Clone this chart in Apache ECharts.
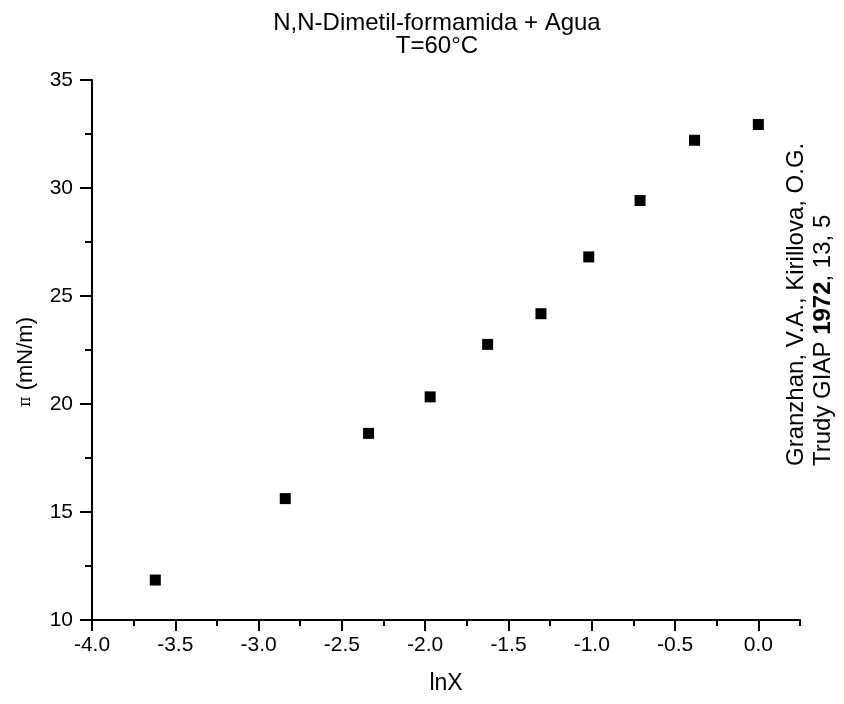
<!DOCTYPE html>
<html>
<head>
<meta charset="utf-8">
<script src="https://cdn.jsdelivr.net/npm/echarts@6/dist/echarts.min.js"></script>
<style>
    html, body { margin: 0; padding: 0; background: #fff; }
    #chart { width: 844px; height: 704px; }
</style>
</head>
<body>
<div id="chart"></div>
<script>
// data
var lnX = [-3.62, -2.84, -2.34, -1.97, -1.625, -1.305, -1.018, -0.71, -0.383, 0.0];
var piVals = [11.85, 15.62, 18.64, 20.33, 22.76, 24.18, 26.81, 29.42, 32.21, 32.94];
var xTicks = [-4.0, -3.5, -3.0, -2.5, -2.0, -1.5, -1.0, -0.5, 0.0];
var yTicks = [10, 15, 20, 25, 30, 35];

var font = 'Liberation Sans, Arial, sans-serif';

var points = [];
for (var i = 0; i < lnX.length; i++) {
    points.push([lnX[i], piVals[i]]);
}

var chart = echarts.init(document.getElementById('chart'));

var option = {
    backgroundColor: '#fff',
    animation: false,
    title: {
        text: 'N,N-Dimetil-formamida + Agua\nT=60°C',
        left: 432,
        textAlign: 'center',
        top: 7,
        textStyle: {
            fontFamily: font,
            fontSize: 24,
            fontWeight: 'normal',
            lineHeight: 23,
            color: '#000'
        }
    },
    grid: {
        left: 92,
        right: 44,
        top: 80,
        bottom: 84
    },
    xAxis: [
        {
            type: 'value',
            min: -4,
            max: 0.25,
            interval: 0.25,
            position: 'bottom',
            name: 'lnX',
            nameLocation: 'middle',
            nameGap: 52,
            nameTextStyle: {fontFamily: font, fontSize: 23, color: '#000'},
            splitLine: {show: false},
            axisLine: {onZero: false, lineStyle: {color: '#000', width: 2}},
            axisTick: {length: 6, lineStyle: {color: '#000', width: 2}},
            axisLabel: {
                customValues: xTicks,
                margin: 15,
                fontFamily: font,
                fontSize: 21,
                color: '#000',
                formatter: function (v) { return v.toFixed(1); }
            }
        },
        {
            // long ticks at the labelled values
            type: 'value',
            min: -4,
            max: 0.25,
            position: 'bottom',
            splitLine: {show: false},
            axisLine: {show: false, onZero: false},
            axisLabel: {show: false},
            axisTick: {customValues: xTicks, length: 11, lineStyle: {color: '#000', width: 2}}
        }
    ],
    yAxis: {
        type: 'value',
        min: 10,
        max: 35,
        interval: 5,
        name: '{p|π} (mN/m)',
        nameLocation: 'middle',
        nameGap: 55,
        nameTextStyle: {
            fontFamily: font,
            fontSize: 22,
            color: '#000',
            padding: [0, 24, 0, 0],
            rich: {
                p: {fontFamily: 'DejaVu Serif', fontSize: 16, color: '#000'}
            }
        },
        splitLine: {show: false},
        axisLine: {show: true, onZero: false, lineStyle: {color: '#000', width: 2}},
        axisTick: {show: true, length: 12, lineStyle: {color: '#000', width: 2}},
        minorTick: {show: true, splitNumber: 2, length: 7, lineStyle: {color: '#000', width: 2}},
        axisLabel: {
            margin: 19,
            fontFamily: font,
            fontSize: 21,
            color: '#000',
            formatter: function (v) {
                return yTicks.indexOf(v) >= 0 ? String(v) : '';
            }
        }
    },
    graphic: [
        {
            type: 'text',
            x: 796,
            y: 466,
            rotation: Math.PI / 2,
            style: {
                text: 'Granzhan, V.A., Kirillova, O.G.',
                fontFamily: font,
                fontSize: 24,
                fill: '#000',
                textAlign: 'left',
                textVerticalAlign: 'middle'
            }
        },
        {
            type: 'text',
            x: 823,
            y: 466,
            rotation: Math.PI / 2,
            style: {
                text: 'Trudy GIAP {b|1972}, 13, 5',
                fontFamily: font,
                fontSize: 24,
                fill: '#000',
                textAlign: 'left',
                textVerticalAlign: 'middle',
                rich: {
                    b: {fontFamily: font, fontSize: 24, fontWeight: 'bold', fill: '#000'}
                }
            }
        }
    ],
    series: [
        {
            type: 'scatter',
            xAxisIndex: 0,
            symbol: 'rect',
            symbolSize: 11,
            itemStyle: {color: '#000', opacity: 1},
            data: points
        }
    ]
};

chart.setOption(option);
</script>
</body>
</html>
